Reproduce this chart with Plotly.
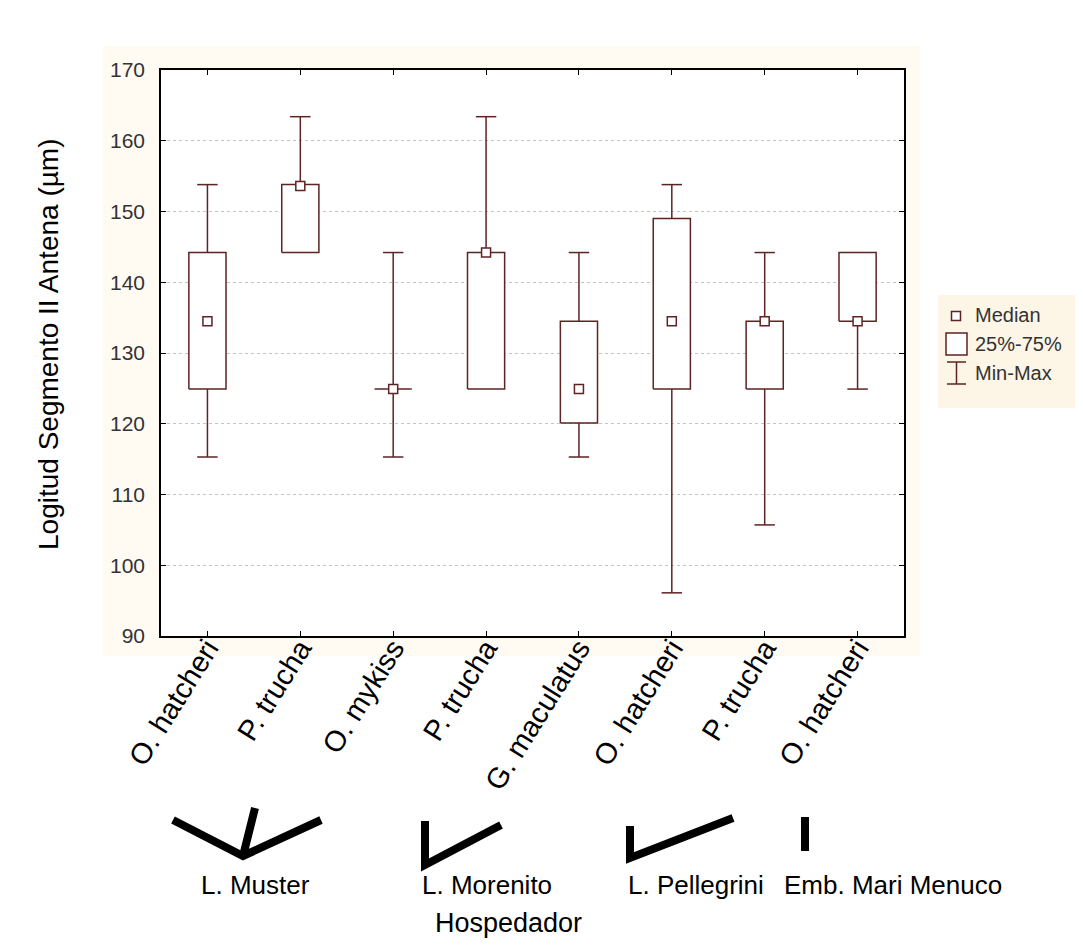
import plotly.graph_objects as go

# ---- data ----
categories = ["O. hatcheri", "P. trucha", "O. mykiss", "P. trucha",
              "G. maculatus", "O. hatcheri", "P. trucha", "O. hatcheri"]
mins    = [115.3, 144.2, 115.3, 124.9, 115.3,  96.1, 105.7, 124.9]
q1      = [124.9, 144.2, 124.9, 124.9, 120.1, 124.9, 124.9, 134.5]
medians = [134.5, 153.6, 124.9, 144.2, 124.9, 134.5, 134.5, 134.5]
q3      = [144.2, 153.8, 124.9, 144.2, 134.5, 149.0, 134.5, 144.2]
maxs    = [153.8, 163.4, 144.2, 163.4, 144.2, 153.8, 144.2, 144.2]
lakes = ["L. Muster", "L. Morenito", "L. Pellegrini", "Emb. Mari Menuco"]
y_ticks = [90, 100, 110, 120, 130, 140, 150, 160, 170]
legend_labels = ["Median", "25%-75%", "Min-Max"]

# ---- style ----
W, H = 1083, 952
L, R, T, B = 153, 896, 62, 628
BOXC = "#5e2323"
SANS = "Liberation Sans, Arial, sans-serif"
BOX_HALF = 0.2
CAP_HALF = 0.11

def px(x):
    return (x - L) / (R - L)

def py(y):
    return (B - y) / (B - T)

xs = list(range(len(categories)))

# boxes
bx, by = [], []
for i in xs:
    bx += [i - BOX_HALF, i + BOX_HALF, i + BOX_HALF, i - BOX_HALF, i - BOX_HALF, None]
    by += [q1[i], q1[i], q3[i], q3[i], q1[i], None]

# whiskers
wx, wy = [], []
for i in xs:
    if maxs[i] > q3[i]:
        wx += [i, i, None, i - CAP_HALF, i + CAP_HALF, None]
        wy += [q3[i], maxs[i], None, maxs[i], maxs[i], None]
    if mins[i] < q1[i]:
        wx += [i, i, None, i - CAP_HALF, i + CAP_HALF, None]
        wy += [q1[i], mins[i], None, mins[i], mins[i], None]

fig = go.Figure()
fig.add_trace(go.Scatter(x=wx, y=wy, mode="lines", line=dict(color=BOXC, width=1.5),
                         showlegend=False, hoverinfo="skip"))
fig.add_trace(go.Scatter(x=bx, y=by, mode="lines", fill="toself", fillcolor="white",
                         line=dict(color=BOXC, width=1.5), showlegend=False, hoverinfo="skip"))
fig.add_trace(go.Scatter(x=xs, y=medians, mode="markers",
                         marker=dict(symbol="square", size=9, color="white",
                                     line=dict(color=BOXC, width=1.5)),
                         showlegend=False))

shapes = []
# cream background region and white plot area
shapes.append(dict(type="rect", xref="paper", yref="paper", layer="below",
                   x0=px(95), x1=px(912), y0=py(648), y1=py(38),
                   fillcolor="#fffbf3", line=dict(width=0)))
shapes.append(dict(type="rect", xref="paper", yref="paper", layer="below",
                   x0=0, x1=1, y0=0, y1=1, fillcolor="white", line=dict(width=0)))

# lake bracket lines (decorative)
brackets = [
    [(165, 812), (235, 848), (313, 812)],
    [(235, 848), (247, 800)],
    [(417, 813), (417, 857), (493, 817)],
    [(622, 818), (622, 850), (725, 810)],
    [(797, 809), (797, 843)],
]
for pts in brackets:
    path = "M " + " L ".join(f"{px(a):.5f},{py(b):.5f}" for a, b in pts)
    shapes.append(dict(type="path", xref="paper", yref="paper", path=path,
                       line=dict(color="black", width=8)))

# legend box
shapes.append(dict(type="rect", xref="paper", yref="paper",
                   x0=px(930), x1=px(1077), y0=py(400), y1=py(287),
                   fillcolor="#fdf5e6", line=dict(width=0), layer="below"))
shapes.append(dict(type="rect", xref="paper", yref="paper",
                   x0=px(943.5), x1=px(952.5), y0=py(312.5), y1=py(303.5),
                   fillcolor="white", line=dict(color=BOXC, width=1.5)))
shapes.append(dict(type="rect", xref="paper", yref="paper",
                   x0=px(938), x1=px(959), y0=py(347), y1=py(325),
                   fillcolor="white", line=dict(color=BOXC, width=1.5)))
for seg in [((948.5, 354), (948.5, 376)), ((939, 354), (958, 354)), ((939, 376), (958, 376))]:
    shapes.append(dict(type="line", xref="paper", yref="paper",
                       x0=px(seg[0][0]), y0=py(seg[0][1]), x1=px(seg[1][0]), y1=py(seg[1][1]),
                       line=dict(color=BOXC, width=1.5)))

annotations = []
for lab, yy in zip(legend_labels, [307, 336, 365]):
    annotations.append(dict(text=lab, xref="paper", yref="paper", x=px(965), y=py(yy),
                            xanchor="left", yanchor="middle", showarrow=False,
                            font=dict(family=SANS, size=20, color="#333333")))
for lab, cx in zip(lakes, [247, 479, 688, 885]):
    annotations.append(dict(text=lab, xref="paper", yref="paper", x=px(cx), y=py(877),
                            xanchor="center", yanchor="middle", showarrow=False,
                            font=dict(family=SANS, size=26, color="black")))
annotations.append(dict(text="Hospedador", xref="paper", yref="paper", x=px(500), y=py(915),
                        xanchor="center", yanchor="middle", showarrow=False,
                        font=dict(family=SANS, size=27, color="black")))
annotations.append(dict(text="Logitud Segmento II Antena (µm)", xref="paper", yref="paper",
                        x=px(40), y=py(337), textangle=-90, xanchor="center", yanchor="middle",
                        showarrow=False, font=dict(family=SANS, size=28, color="black")))

fig.update_layout(
    width=W, height=H,
    margin=dict(l=L, r=W - R, t=T, b=H - B),
    paper_bgcolor="white", plot_bgcolor="rgba(0,0,0,0)",
    shapes=shapes, annotations=annotations, showlegend=False,
)
fig.update_xaxes(range=[-0.5, len(categories) - 0.5], tickvals=xs, ticktext=categories,
                 tickangle=-58, ticks="inside", ticklen=5, tickcolor="black",
                 showline=True, linecolor="black", linewidth=1.5, mirror="ticks",
                 showgrid=False, zeroline=False, ticklabelstandoff=-18,
                 tickfont=dict(family=SANS, size=29, color="black"))
fig.update_yaxes(range=[90, 170], tickvals=y_ticks, ticks="inside", ticklen=5, tickcolor="black",
                 showline=True, linecolor="black", linewidth=1.5, mirror="ticks",
                 showgrid=True, gridcolor="#c4c4c4", griddash="dot", gridwidth=1,
                 zeroline=False, ticklabelstandoff=10,
                 tickfont=dict(family=SANS, size=21, color="#333333"))

fig.write_html("out.html")
